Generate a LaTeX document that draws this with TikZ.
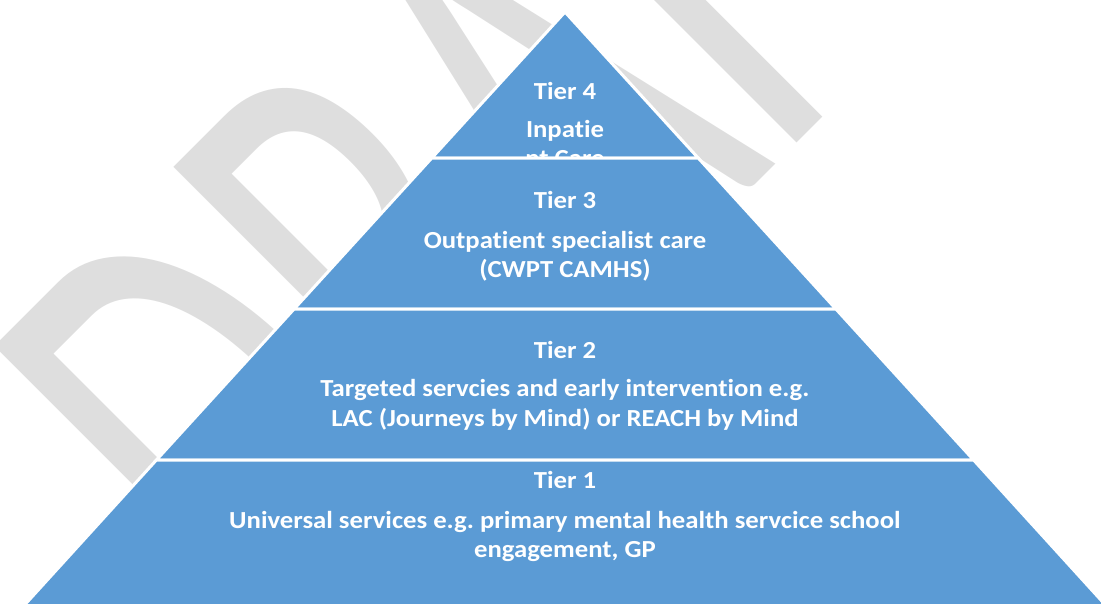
\documentclass[tikz,border=0pt]{standalone}
\usepackage{fontspec}
\setmainfont{Carlito}[Ligatures=NoCommon]
\frenchspacing
\definecolor{tierblue}{RGB}{91,155,213}
\definecolor{wmgray}{RGB}{222,222,222}
\tikzset{
  tier/.style={fill=tierblue, draw=white, line width=3pt},
  lbl/.style={text=white, font=\bfseries\fontsize{24.5}{29.5}\selectfont, inner sep=0pt, anchor=base, xscale=1.09},
  wm/.style={text=wmgray, font=\fontsize{660}{660}\selectfont, inner sep=0pt, anchor=base west}
}
\begin{document}
\begin{tikzpicture}[x=1pt,y=1pt]
\useasboundingbox (0,0) rectangle (1101,-603);
\clip (0,0) rectangle (1101,-603);
% watermark
\node[wm, rotate=45, xscale=0.62] (wmark) at (274.8,-665.2) {DRAFT};
% Tier 4
\path[tier] (565,-12) -- (698.2,-158) -- (431.8,-158) -- cycle;
\begin{scope}
\clip (565,-12) -- (698.2,-156.5) -- (431.8,-156.5) -- cycle;
\node[lbl] (t4) at (565,-99) {Tier 4};
\node[lbl] (t4a) at (565,-137) {Inpatie};
\node[lbl] (t4b) at (565,-166.5) {nt Care};
\end{scope}
% Tier 3
\path[tier] (431.8,-158) -- (698.2,-158) -- (835.9,-309) -- (294.1,-309) -- cycle;
\node[lbl] (t3) at (565,-208) {Tier 3};
\node[lbl] (t3a) at (565,-248) {Outpatient specialist care};
\node[lbl] (t3b) at (565,-277.5) {(CWPT CAMHS)};
% Tier 2
\path[tier] (294.1,-309) -- (835.9,-309) -- (973.6,-460) -- (156.4,-460) -- cycle;
\node[lbl] (t2) at (565,-358.5) {Tier 2};
\node[lbl] (t2a) at (565,-396.5) {Targeted servcies and early intervention e.g.};
\node[lbl] (t2b) at (565,-426) {LAC (Journeys by Mind) or REACH by Mind};
% Tier 1
\path[tier] (156.4,-460) -- (973.6,-460) -- (1110,-610) -- (20,-610) -- cycle;
\node[lbl] (t1) at (565,-488.5) {Tier 1};
\node[lbl] (t1a) at (565,-528) {Universal services e.g. primary mental health servcice school};
\node[lbl] (t1b) at (565,-557.5) {engagement, GP};
\end{tikzpicture}
\end{document}
